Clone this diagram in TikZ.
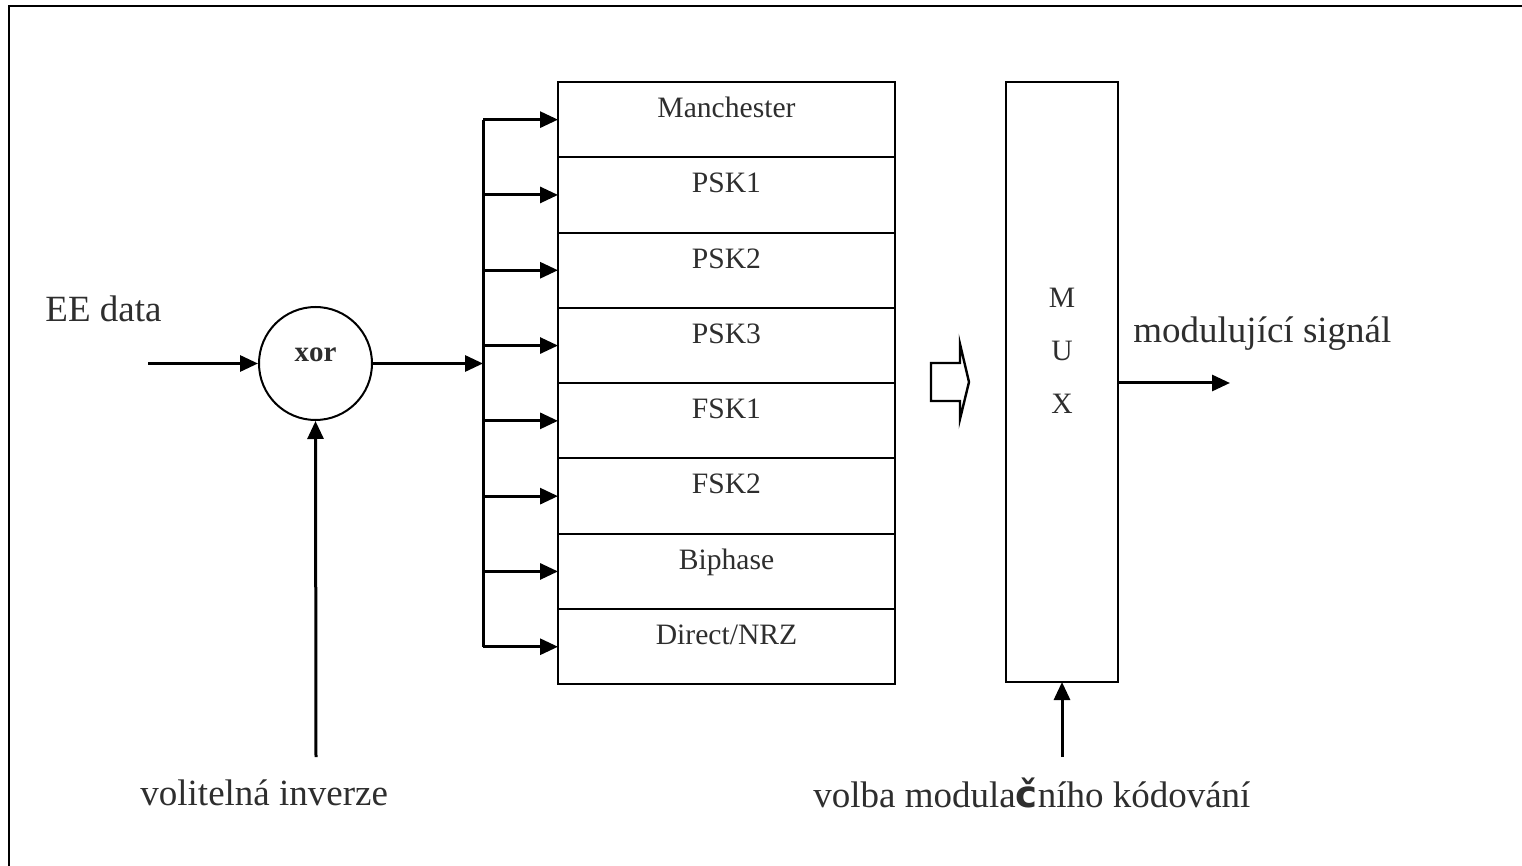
\documentclass[tikz,border=0pt]{standalone}
\usepackage{fontspec}
\setmainfont{Liberation Serif}
\newfontfamily\djv{DejaVu Sans}
\usetikzlibrary{arrows.meta,calc}
\definecolor{txt}{gray}{0.18}
\begin{document}
\begin{tikzpicture}[x=0.5pt,y=-0.5pt,
  arr/.style={line width=1.5pt,-{Triangle[length=9pt,width=8pt]}},
  rowbox/.style={draw,line width=1pt,minimum width=168.5pt,inner sep=0pt,outer sep=0pt,
    text height=17.75pt,text depth=19.9pt,anchor=north,
    font=\fontsize{14.8}{16}\selectfont,text=txt},
  big/.style={font=\fontsize{18.5}{22}\selectfont,text=txt,inner sep=0pt},
  muxl/.style={font=\fontsize{14.8}{16}\selectfont,text=txt,inner sep=0pt,anchor=base},
]
\useasboundingbox (0,0) rectangle (1522,866);
% frame
\draw[line width=1.3pt] (9,866) -- (9,6) -- (1522,6);

% stacked encoder boxes
\node[rowbox] (r1) at (726.5,82) {Manchester};
\node[rowbox] (r2) at (r1.south) {PSK1};
\node[rowbox] (r3) at (r2.south) {PSK2};
\node[rowbox] (r4) at (r3.south) {PSK3};
\node[rowbox] (r5) at (r4.south) {FSK1};
\node[rowbox] (r6) at (r5.south) {FSK2};
\node[rowbox] (r7) at (r6.south) {Biphase};
\node[rowbox] (r8) at (r7.south) {Direct/NRZ};

% MUX
\node[draw,line width=1pt,minimum width=56pt,minimum height=300pt,inner sep=0pt,outer sep=0pt,anchor=north] (mux) at (1062,82) {};
\node[muxl] (mm) at (1062,308) {M};
\node[muxl] (mu) at (1062,361) {U};
\node[muxl] (mx) at (1062,414) {X};

% xor
\node[circle,draw,line width=1pt,minimum size=56.5pt,inner sep=0pt] (xor) at (315.5,363.5) {};
\node[font=\bfseries\fontsize{14.5}{16}\selectfont,text=txt,anchor=base,inner sep=0pt] (xort) at (315.5,362) {xor};

% labels
\node[big,anchor=base west] (ee) at (45,322) {EE data};
\node[big,anchor=base west] (inv) at (140,805) {volitelná inverze};
\node[big,anchor=base west] (sig) at (1133,343) {modulující signál};
\node[big,anchor=base west] (vol) at (813,807) {volba modula{\djv\bfseries č}ního kódování};

% connectors
\coordinate (bus) at (483,0);
\coordinate (in) at (148,363.5);
\coordinate (invs) at (316,757);
\coordinate (sel) at (1062,757);
\coordinate (out) at (1230,383);

\draw[arr] (in) -- (xor.west);
\draw[arr] (xor.east) -- (xor.east -| bus);
\draw[line width=1.5pt] (bus |- r1.west) -- (bus |- r8.west);
\foreach \i in {1,...,8} \draw[arr] (bus |- r\i.west) -- (r\i.west);
\draw[arr] (invs) -- (xor.south);
\draw[arr] (sel) -- (mux.south);
\draw[arr] (out -| mux.east) -- (out);

% hollow block arrow
\draw[line width=1.2pt,line join=miter] (931,363) -- (960,363) -- (960,344) -- (969,382) -- (960,419) -- (960,401) -- (931,401) -- cycle;
\end{tikzpicture}
\end{document}
